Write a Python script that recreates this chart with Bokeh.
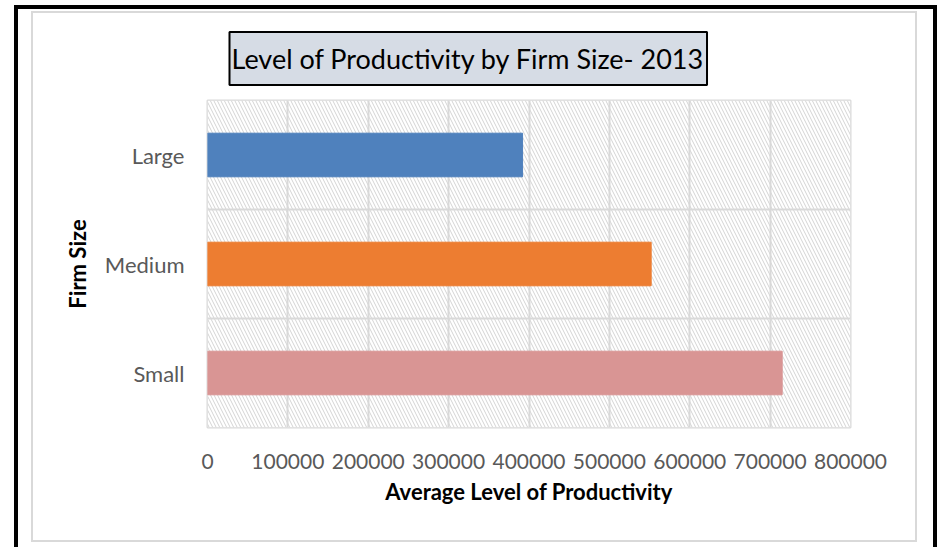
from bokeh.plotting import figure
from bokeh.models import (FactorRange, Range1d, BoxAnnotation, FixedTicker,
                          ColumnDataSource, NumeralTickFormatter, InlineStyleSheet)
from bokeh.embed import file_html
from bokeh.resources import INLINE

# ---- data ----
firm_sizes = ["Small", "Medium", "Large"]          # bottom to top
productivity = [715000, 552000, 392000]
bar_colors = ["#d99594", "#ed7d31", "#4f81bd"]
x_ticks = [0, 100000, 200000, 300000, 400000, 500000, 600000, 700000, 800000]
title_text = "Level of Productivity by Firm Size- 2013"
x_title = "Average Level of Productivity"
y_title = "Firm Size"

W, H = 937, 547
FONT = "Lato"

p = figure(width=W, height=H, output_backend="svg", toolbar_location=None,
           y_range=FactorRange(factors=firm_sizes, range_padding=0),
           x_range=Range1d(0, 800000))
p.min_border_left = 207
p.min_border_right = 87
p.min_border_top = 100
p.min_border_bottom = 120
p.background_fill_color = "white"
p.border_fill_color = "white"
p.outline_line_color = "#d9d9d9"
p.outline_line_width = 2

# title in a box
p.title.text = title_text
p.title.text_font = FONT
p.title.text_font_size = "27px"
p.title.text_font_style = "normal"
p.title.text_color = "black"
p.title.align = "left"
p.title.offset = 22
p.title.standoff = 31
p.title.background_fill_color = "#d6dce5"
p.title.border_line_color = "black"
p.title.border_line_width = 2
p.title.padding = (2, 10)

# hatched plot area
p.add_layout(BoxAnnotation(fill_color="white", fill_alpha=1.0,
                           hatch_pattern="left_diagonal_line", hatch_color="#d4d4d4",
                           hatch_scale=7, hatch_weight=1, line_color=None,
                           level="image"))

src = ColumnDataSource(dict(size=firm_sizes, value=productivity, color=bar_colors))
p.hbar(y="size", right="value", left=0, height=0.4, color="color", source=src)

# grid
p.xgrid.ticker = FixedTicker(ticks=x_ticks)
p.xgrid.grid_line_color = "#d9d9d9"
p.xgrid.grid_line_width = 2
p.ygrid.ticker = FixedTicker(ticks=[0, 1, 2, 3])
p.ygrid.grid_line_color = "#d9d9d9"
p.ygrid.grid_line_width = 2

# axes
p.xaxis.ticker = FixedTicker(ticks=x_ticks)
p.xaxis.formatter = NumeralTickFormatter(format="0")
for ax in (p.xaxis[0], p.yaxis[0]):
    ax.axis_line_color = None
    ax.major_tick_line_color = None
    ax.minor_tick_line_color = None
    ax.major_label_text_font = FONT
    ax.major_label_text_font_size = "21px"
    ax.major_label_text_color = "#595959"
    ax.axis_label_text_font = FONT
    ax.axis_label_text_font_style = "bold"
    ax.axis_label_text_font_size = "22px"
    ax.axis_label_text_color = "black"
p.yaxis.major_label_text_font_size = "22px"
p.xaxis.major_label_standoff = 20
p.xaxis.axis_label = x_title
p.xaxis.axis_label_standoff = 6
p.yaxis.major_label_standoff = 17
p.yaxis.axis_label = y_title
p.yaxis.axis_label_standoff = 11

# outer frame borders (decoration)
p.stylesheets = [InlineStyleSheet(css="""
:host { position: relative; }
:host::before { content: ""; position: absolute; left: 14px; top: 5px; width: 915px; height: 560px;
  border: 4px solid black; z-index: 100; pointer-events: none; box-sizing: content-box; }
:host::after { content: ""; position: absolute; left: 31px; top: 11px; width: 882px; height: 527px;
  border: 2px solid #d9d9d9; z-index: 100; pointer-events: none; box-sizing: content-box; }
""")]

open("out.html", "w").write(file_html(p, INLINE))
